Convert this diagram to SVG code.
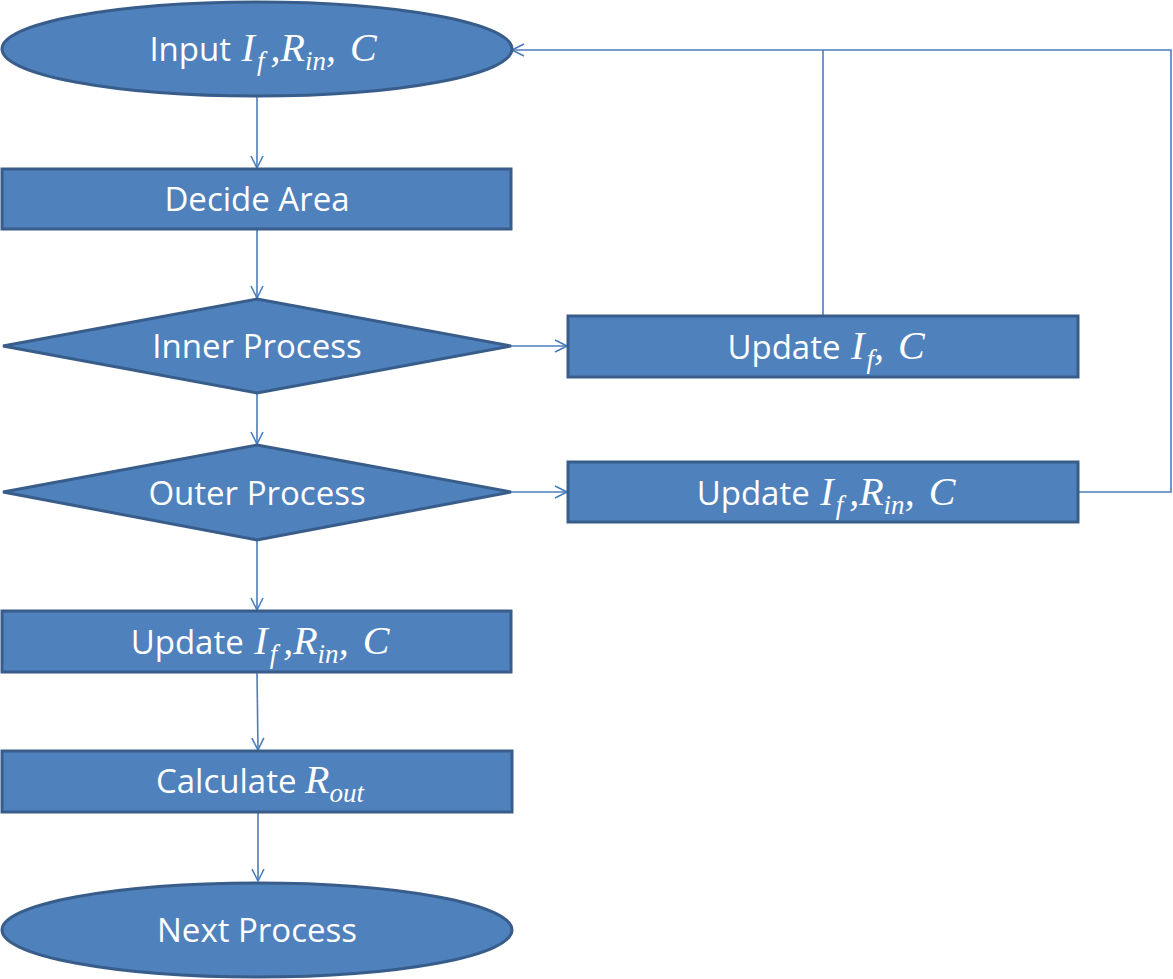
<svg xmlns="http://www.w3.org/2000/svg" width="1173" height="979" viewBox="0 0 1173 979">
<style>
.n{fill:#4f81bd;stroke:#385d8a;stroke-width:3}
.t{fill:#fff;font-family:"Open Sans","Liberation Sans",sans-serif;font-size:33px;text-anchor:middle}
.m{font-family:"Liberation Serif","DejaVu Serif",serif;font-style:italic;font-size:40px}
.s{font-family:"Liberation Serif","DejaVu Serif",serif;font-style:italic;font-size:27px}
.c{fill:none;stroke:#4a7ebb;stroke-width:1.6}
</style>
<defs>
<marker id="a" viewBox="0 0 14 14" refX="13" refY="7" markerWidth="14" markerHeight="14" markerUnits="userSpaceOnUse" orient="auto">
<path d="M1,1 L13,7 L1,13" fill="none" stroke="#4a7ebb" stroke-width="1.6"/>
</marker>
</defs>
<rect width="1173" height="979" fill="#fff"/>
<g id="connectors">
<path class="c" d="M257,97 L257,168" marker-end="url(#a)"/>
<path class="c" d="M257,229 L257,298" marker-end="url(#a)"/>
<path class="c" d="M257,393 L257,444" marker-end="url(#a)"/>
<path class="c" d="M257,540 L257,610" marker-end="url(#a)"/>
<path class="c" d="M257,672 L258,750" marker-end="url(#a)"/>
<path class="c" d="M258,812 L258,881" marker-end="url(#a)"/>
<path class="c" d="M511,346 L567,346" marker-end="url(#a)"/>
<path class="c" d="M511,492 L567,492" marker-end="url(#a)"/>
<path class="c" d="M823,316 L823,50"/>
<path class="c" d="M1078,492 L1171,492 L1171,50 L512,50" marker-end="url(#a)"/>
</g>
<g id="input">
<ellipse class="n" cx="257" cy="49" rx="255" ry="47"/>
<text class="t" x="263" y="61">Input <tspan class="m" dx="2">I</tspan><tspan class="s" dx="2" dy="9">f</tspan><tspan class="m" dx="6" dy="-9">,R</tspan><tspan class="s" dy="9">in</tspan><tspan class="m" dy="-9">,</tspan><tspan class="m" dx="14">C</tspan></text>
</g>
<g id="decide">
<rect class="n" x="2" y="169" width="509" height="60"/>
<text class="t" x="257" y="211">Decide Area</text>
</g>
<g id="inner">
<polygon class="n" points="257,299 511,346 257,393 3,346"/>
<text class="t" x="257" y="358">Inner Process</text>
</g>
<g id="outer">
<polygon class="n" points="257,445 511,492 257,540 3,492"/>
<text class="t" x="257" y="505">Outer Process</text>
</g>
<g id="updateIC">
<rect class="n" x="568" y="316" width="510" height="61"/>
<text class="t" x="826" y="359">Update <tspan class="m" dx="2">I</tspan><tspan class="s" dx="2" dy="9">f</tspan><tspan class="m" dy="-9">,</tspan><tspan class="m" dx="14">C</tspan></text>
</g>
<g id="updateIRC2">
<rect class="n" x="568" y="462" width="510" height="60"/>
<text class="t" x="826" y="505">Update <tspan class="m" dx="2">I</tspan><tspan class="s" dx="2" dy="9">f</tspan><tspan class="m" dx="6" dy="-9">,R</tspan><tspan class="s" dy="9">in</tspan><tspan class="m" dy="-9">,</tspan><tspan class="m" dx="14">C</tspan></text>
</g>
<g id="updateIRC">
<rect class="n" x="2" y="611" width="509" height="61"/>
<text class="t" x="260" y="654">Update <tspan class="m" dx="2">I</tspan><tspan class="s" dx="2" dy="9">f</tspan><tspan class="m" dx="6" dy="-9">,R</tspan><tspan class="s" dy="9">in</tspan><tspan class="m" dy="-9">,</tspan><tspan class="m" dx="14">C</tspan></text>
</g>
<g id="calc">
<rect class="n" x="2" y="751" width="510" height="61"/>
<text class="t" x="260" y="793">Calculate <tspan class="m">R</tspan><tspan class="s" dy="9">out</tspan></text>
</g>
<g id="next">
<ellipse class="n" cx="257" cy="930" rx="255" ry="47"/>
<text class="t" x="257" y="942">Next Process</text>
</g>
</svg>
